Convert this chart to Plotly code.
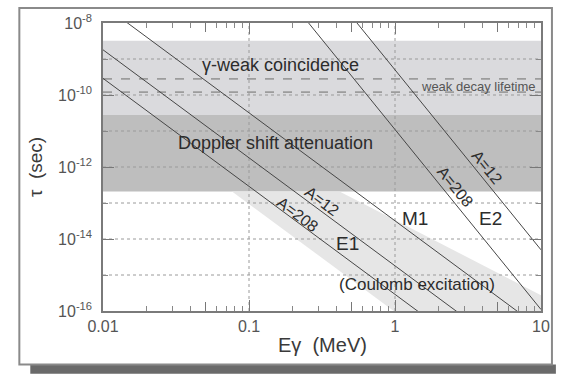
import numpy as np
import plotly.graph_objects as go

# Axis spans: photon energy (MeV) and lifetime (s)
E_RANGE = [0.01, 10.0]
TAU_RANGE = [1e-16, 1e-8]

# Single-particle (Weisskopf) lifetimes at both ends of the energy span (s)
tau_e1_a12 = [1.8e-9, 1.8e-18]
tau_e1_a208 = [2.9e-10, 2.9e-19]
tau_m1 = [3.2e-8, 3.2e-17]
tau_e2_a12 = [5.0, 5.0e-15]
tau_e2_a208 = [0.11, 1.1e-16]

# Lifetime windows of the measuring techniques (s)
gamma_weak_window = [2.8e-11, 3.2e-9]
doppler_window = [2.1e-13, 2.8e-11]
weak_decay_lifetime = [1.2e-10, 2.8e-10]

# Outline of the Coulomb-excitation region (E in MeV, tau in s)
coulex_E = [0.0765, 0.417, 10.0, 10.0, 0.98]
coulex_tau = [2.1e-13, 2.1e-13, 2.75e-16, 1e-16, 1e-16]

# Tick marks and grid
x_major = [0.01, 0.1, 1, 10]
x_major_text = ["0.01", "0.1", "1", "10"]
x_fives = [0.05, 0.5, 5]
x_minor = [m * d for d in (0.01, 0.1, 1) for m in (2, 3, 4, 6, 7, 8, 9)]
x_grid = [0.1, 1]
y_major = [1e-16, 1e-14, 1e-12, 1e-10, 1e-8]
y_major_text = ["10<sup>-16</sup>", "10<sup>-14</sup>", "10<sup>-12</sup>",
                "10<sup>-10</sup>", "10<sup>-8</sup>"]
y_minor = [1e-15, 1e-13, 1e-11, 1e-9]
y_grid = [1e-15, 1e-14, 1e-13, 1e-12, 1e-11, 1e-10, 1e-9]

FONT = "Liberation Sans, Arial, sans-serif"
INK = "#2c2c2c"
LINE = "#464646"
GRID = dict(color="#9a9a9a", width=1, dash="dot")
lg = np.log10

fig = go.Figure()


def band(xs, ys, color):
    fig.add_trace(go.Scatter(x=xs, y=ys, mode="lines", fill="toself",
                             fillcolor=color, line=dict(width=0),
                             hoverinfo="skip", showlegend=False))


# Technique windows
band([E_RANGE[0], E_RANGE[1], E_RANGE[1], E_RANGE[0]],
     [gamma_weak_window[0], gamma_weak_window[0],
      gamma_weak_window[1], gamma_weak_window[1]], "#dadadd")
band([E_RANGE[0], E_RANGE[1], E_RANGE[1], E_RANGE[0]],
     [doppler_window[0], doppler_window[0],
      doppler_window[1], doppler_window[1]], "#bebebe")
band(coulex_E, coulex_tau, "#e6e6e6")

# Dotted grid over the shaded windows
for t in y_grid:
    fig.add_trace(go.Scatter(x=E_RANGE, y=[t, t], mode="lines", line=GRID,
                             hoverinfo="skip", showlegend=False))
for e in x_grid:
    fig.add_trace(go.Scatter(x=[e, e], y=TAU_RANGE, mode="lines", line=GRID,
                             hoverinfo="skip", showlegend=False))

# Limits of the weak-decay lifetime
for t in weak_decay_lifetime:
    fig.add_trace(go.Scatter(x=E_RANGE, y=[t, t], mode="lines",
                             line=dict(color="#9c9c9c", width=1.6, dash="dash"),
                             hoverinfo="skip", showlegend=False))

# Transition-rate lines
for tau in (tau_e1_a12, tau_e1_a208, tau_m1, tau_e2_a12, tau_e2_a208):
    fig.add_trace(go.Scatter(x=E_RANGE, y=tau, mode="lines",
                             line=dict(color=LINE, width=1),
                             hoverinfo="skip", showlegend=False))

# Page frame with drop shadow
shapes = [
    dict(type="rect", xref="paper", yref="paper", layer="below",
         x0=-0.166, x1=1.034, y0=-0.218, y1=-0.186,
         fillcolor="#6a6a6a", line_width=0),
    dict(type="rect", xref="paper", yref="paper", layer="below",
         x0=-0.191, x1=1.025, y0=-0.186, y1=1.052,
         fillcolor="rgba(0,0,0,0)", line=dict(color="#8a8a8a", width=2)),
]


def label(text, E, tau, size=18, angle=0, color=INK):
    fig.add_annotation(x=lg(E), y=lg(tau), xref="x", yref="y", text=text,
                       showarrow=False, textangle=angle,
                       xanchor="center", yanchor="middle",
                       font=dict(family=FONT, size=size, color=color))


label("γ-weak coincidence", 0.164, 7.0e-10, size=18)
label("Doppler shift attenuation", 0.152, 4.7e-12, size=18)
label("weak decay lifetime", 3.72, 1.74e-10, size=13, color="#555555")
label("M1", 1.36, 3.8e-14, size=19)
label("E2", 4.49, 3.8e-14, size=19)
label("E1", 0.472, 7.4e-15, size=19)
label("(Coulomb excitation)", 1.42, 5.5e-16, size=17)
label("A=12", 0.318, 1.12e-13, size=16, angle=37)
label("A=208", 0.215, 4.7e-14, size=16, angle=37)
label("A=208", 2.58, 2.9e-13, size=16, angle=51)
label("A=12", 4.28, 9.8e-13, size=16, angle=51)

# Axis titles
fig.add_annotation(xref="paper", yref="paper", x=0.5, y=-0.117,
                   xanchor="center", yanchor="middle",
                   text="Eγ\u00a0 (MeV)", showarrow=False,
                   font=dict(family=FONT, size=20, color="#3a3a3a"))
fig.add_annotation(xref="paper", yref="paper", x=-0.155, y=0.5,
                   xanchor="center", yanchor="middle",
                   text="τ  (sec)", showarrow=False, textangle=-90,
                   font=dict(family=FONT, size=19, color="#3a3a3a"))

axis_common = dict(
    type="log", ticks="inside", ticklen=11, tickcolor="#777777",
    showline=True, linecolor="#7a7a7a", linewidth=1.5, mirror="ticks",
    showgrid=False, zeroline=False,
    tickfont=dict(family=FONT, size=16, color="#555555"),
)

fig.update_layout(
    width=562, height=374,
    margin=dict(l=103, r=20, t=20, b=63),
    paper_bgcolor="white", plot_bgcolor="white",
    shapes=shapes,
    xaxis=dict(axis_common, range=[lg(E_RANGE[0]), lg(E_RANGE[1])],
               tickmode="array", tickvals=x_major, ticktext=x_major_text,
               minor=dict(tickmode="array", tickvals=x_minor, ticks="inside",
                          ticklen=5, tickcolor="#888888", showgrid=False)),
    xaxis2=dict(type="log", range=[lg(E_RANGE[0]), lg(E_RANGE[1])],
                overlaying="x", anchor="y", side="bottom",
                tickmode="array", tickvals=x_fives, showticklabels=False,
                ticks="inside", ticklen=9, tickcolor="#777777", mirror="ticks",
                showline=False, showgrid=False, zeroline=False),
    yaxis=dict(axis_common, range=[lg(TAU_RANGE[0]), lg(TAU_RANGE[1])],
               tickmode="array", tickvals=y_major, ticktext=y_major_text,
               ticklabelstandoff=6,
               minor=dict(tickmode="array", tickvals=y_minor, ticks="inside",
                          ticklen=5, tickcolor="#888888", showgrid=False)),
)

# Invisible trace that binds the secondary tick axis
fig.add_trace(go.Scatter(x=[E_RANGE[0]], y=[TAU_RANGE[0]], xaxis="x2",
                         mode="markers", marker=dict(opacity=0),
                         hoverinfo="skip", showlegend=False))

fig.write_html("out.html")
